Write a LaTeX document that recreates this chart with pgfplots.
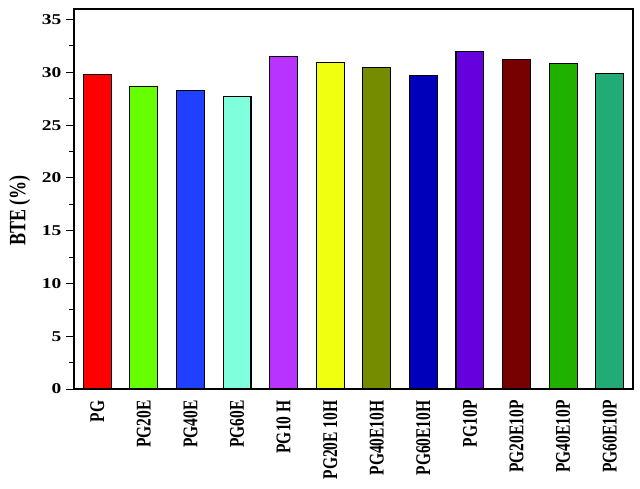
\documentclass[border=0pt]{standalone}
\usepackage{pgfplots}
\pgfplotsset{compat=1.18}
\usepackage{fontspec}
\setmainfont{Liberation Serif}
\definecolor{c1}{HTML}{FF0000}
\definecolor{c2}{HTML}{66FF00}
\definecolor{c3}{HTML}{2040FF}
\definecolor{c4}{HTML}{80FFDD}
\definecolor{c5}{HTML}{B833FF}
\definecolor{c6}{HTML}{F0FF10}
\definecolor{c7}{HTML}{758C00}
\definecolor{c8}{HTML}{0000BB}
\definecolor{c9}{HTML}{6600DD}
\definecolor{c10}{HTML}{770000}
\definecolor{c11}{HTML}{20B000}
\definecolor{c12}{HTML}{22AA77}
\begin{document}
\begin{tikzpicture}
\useasboundingbox (0,0) rectangle (640pt,488pt);
\begin{axis}[
  at={(74pt,99pt)}, anchor=south west,
  scale only axis, width=559pt, height=380pt,
  xmin=-0.5, xmax=11.5, ymin=0, ymax=36,
  ytick={0,5,...,35}, minor y tick num=1,
  ytick pos=left,
  tick align=outside, major tick length=8pt, minor tick length=5pt,
  xtick={0,...,11},
  xticklabels={PG,PG20E,PG40E,PG60E,PG10 H,PG20E 10H,PG40E10H,PG60E10H,PG10P,PG20E10P,PG40E10P,PG60E10P},
  xtick style={draw=none},
  x tick label style={rotate=90, yscale=1.35, anchor=east, font=\bfseries\fontsize{15.5}{16}\selectfont},
  y tick label style={xscale=1.3, font=\bfseries\fontsize{15}{16}\selectfont},
  /pgf/number format/assume math mode=true,
  ylabel={BTE (\%)},
  ylabel style={at={(axis description cs:-0.097,0.47)}, anchor=center, yscale=1.3, font=\bfseries\fontsize{18}{20}\selectfont},
  axis line style={line width=1.2pt},
  every tick/.style={black, line width=1pt},
  ybar,
]
\addplot[fill=c1, draw=black, line width=1.1pt, bar width=0.6, bar shift=0pt] coordinates {(0,29.8)};
\addplot[fill=c2, draw=black, line width=1.1pt, bar width=0.6, bar shift=0pt] coordinates {(1,28.7)};
\addplot[fill=c3, draw=black, line width=1.1pt, bar width=0.6, bar shift=0pt] coordinates {(2,28.3)};
\addplot[fill=c4, draw=black, line width=1.1pt, bar width=0.6, bar shift=0pt] coordinates {(3,27.7)};
\addplot[fill=c5, draw=black, line width=1.1pt, bar width=0.6, bar shift=0pt] coordinates {(4,31.5)};
\addplot[fill=c6, draw=black, line width=1.1pt, bar width=0.6, bar shift=0pt] coordinates {(5,30.9)};
\addplot[fill=c7, draw=black, line width=1.1pt, bar width=0.6, bar shift=0pt] coordinates {(6,30.5)};
\addplot[fill=c8, draw=black, line width=1.1pt, bar width=0.6, bar shift=0pt] coordinates {(7,29.7)};
\addplot[fill=c9, draw=black, line width=1.1pt, bar width=0.6, bar shift=0pt] coordinates {(8,32.0)};
\addplot[fill=c10, draw=black, line width=1.1pt, bar width=0.6, bar shift=0pt] coordinates {(9,31.25)};
\addplot[fill=c11, draw=black, line width=1.1pt, bar width=0.6, bar shift=0pt] coordinates {(10,30.8)};
\addplot[fill=c12, draw=black, line width=1.1pt, bar width=0.6, bar shift=0pt] coordinates {(11,29.9)};
\end{axis}
\end{tikzpicture}
\end{document}
